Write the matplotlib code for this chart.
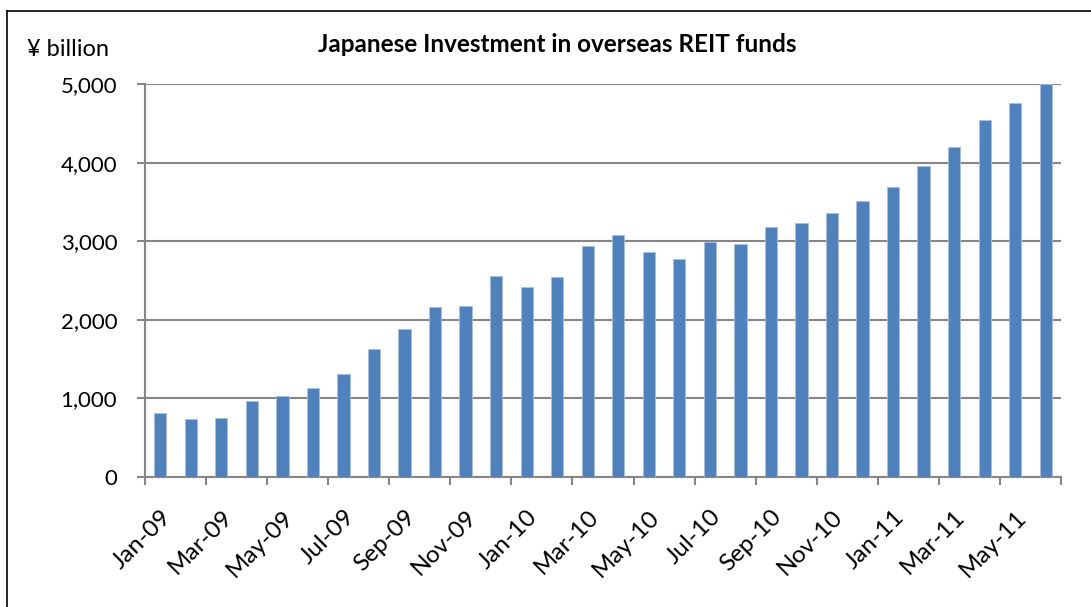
import matplotlib
matplotlib.use('Agg')
import matplotlib.pyplot as plt
from matplotlib.lines import Line2D

months = ['Jan-09', 'Feb-09', 'Mar-09', 'Apr-09', 'May-09', 'Jun-09',
          'Jul-09', 'Aug-09', 'Sep-09', 'Oct-09', 'Nov-09', 'Dec-09',
          'Jan-10', 'Feb-10', 'Mar-10', 'Apr-10', 'May-10', 'Jun-10',
          'Jul-10', 'Aug-10', 'Sep-10', 'Oct-10', 'Nov-10', 'Dec-10',
          'Jan-11', 'Feb-11', 'Mar-11', 'Apr-11', 'May-11', 'Jun-11']
investment = [815, 740, 748, 964, 1036, 1130, 1308, 1627, 1881, 2157,
              2170, 2552, 2412, 2548, 2939, 3079, 2862, 2777, 2994, 2964,
              3176, 3236, 3363, 3507, 3690, 3962, 4200, 4539, 4756, 5000]
yticks = [0, 1000, 2000, 3000, 4000, 5000]

plt.rcParams['font.family'] = ['Lato', 'DejaVu Sans']
grey = '#868686'

fig = plt.figure(figsize=(10.91, 6.07), dpi=100)
ax = fig.add_axes([145 / 1091, 1 - 477 / 607, 916 / 1091, 393 / 607])

x = list(range(len(months)))
ax.bar(x, investment, width=0.4, color='#4F81BD', edgecolor='#A7BFDE',
       linewidth=0.6, zorder=3)

ax.set_xlim(-0.5, len(months) - 0.5)
ax.set_ylim(0, 5000)
ax.set_yticks(yticks)
ax.set_yticklabels([f'{v:,}' for v in yticks], fontsize=16)
ax.yaxis.grid(True, color=grey, linewidth=1.5, zorder=0)
ax.tick_params(axis='y', length=6, width=1.5, color=grey, pad=14)

# labels at category centres, tick marks on every second boundary
ax.set_xticks(x[::2])
ax.set_xticklabels(months[::2], fontsize=17.5, rotation=45, ha='right',
                   va='top', rotation_mode='anchor')
ax.tick_params(axis='x', which='major', length=0, pad=21)
ax.set_xticks([i - 0.5 for i in range(0, len(months) + 1, 2)], minor=True)
ax.tick_params(axis='x', which='minor', length=6, width=1.5, color=grey)

for side in ['top', 'right']:
    ax.spines[side].set_visible(False)
for side in ['left', 'bottom']:
    ax.spines[side].set_color(grey)
    ax.spines[side].set_linewidth(1.5)

fig.text(557 / 1091, 1 - 44 / 607, 'Japanese Investment in overseas REIT funds',
         ha='center', va='center', fontsize=17.5, fontweight='bold')
fig.text(27 / 1091, 1 - 50 / 607, '¥ billion', ha='left', va='center',
         fontsize=17)

# chart frame (cropped at right and bottom)
fig.add_artist(Line2D([7 / 1091, 1], [1 - 11 / 607, 1 - 11 / 607],
                      color='black', linewidth=1.2))
fig.add_artist(Line2D([7 / 1091, 7 / 1091], [0, 1 - 11 / 607],
                      color='black', linewidth=1.2))

fig.savefig('out.png', dpi=100)
